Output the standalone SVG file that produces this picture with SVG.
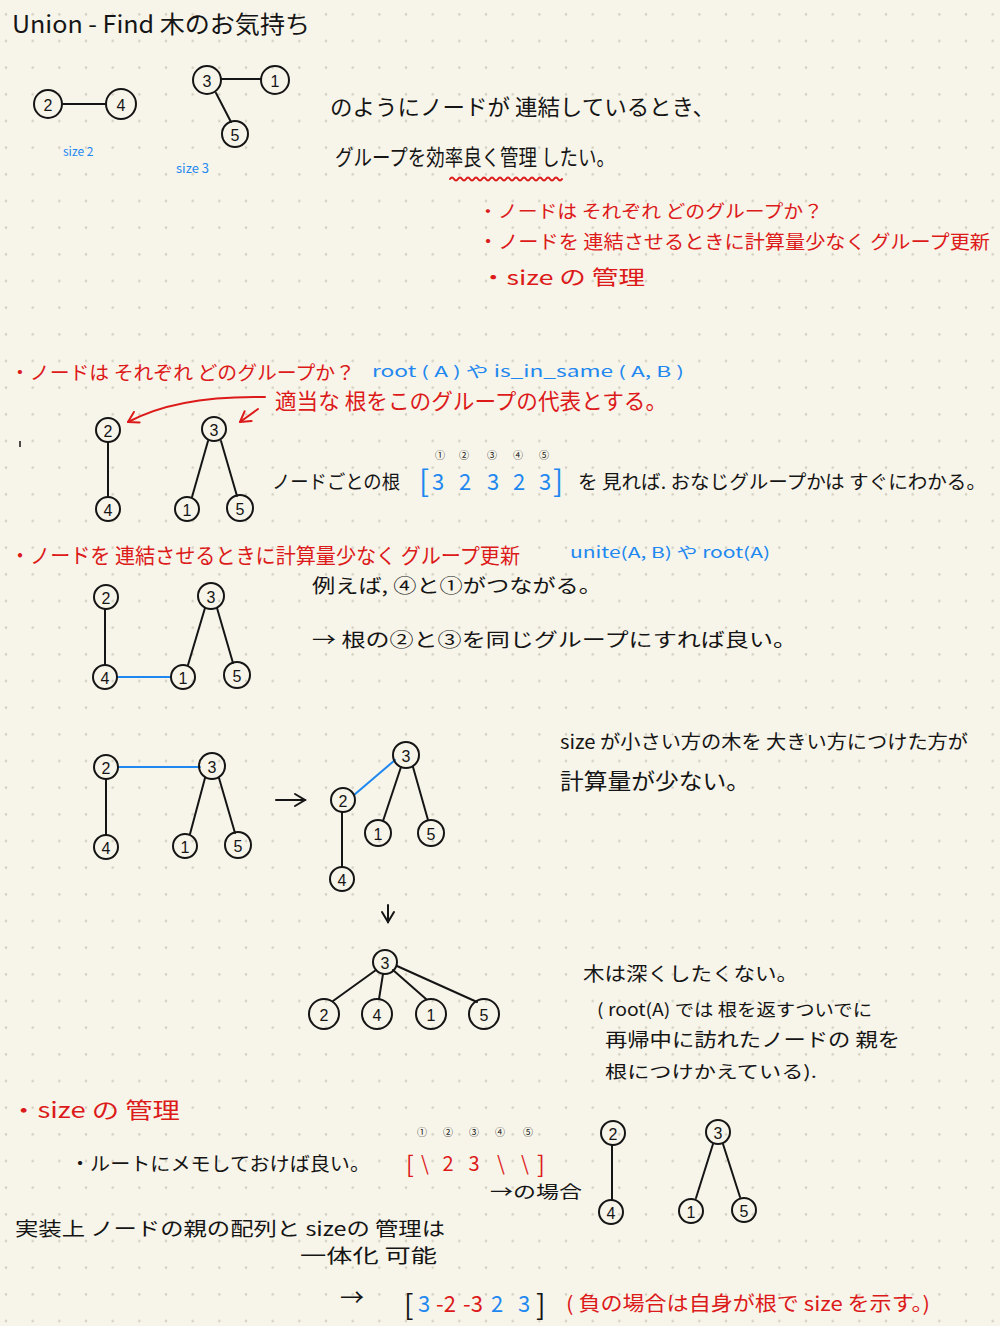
<svg xmlns="http://www.w3.org/2000/svg" width="1000" height="1326" viewBox="0 0 1000 1326">
<style>
.t{font-family:"Noto Sans CJK JP","Noto Sans CJK SC",sans-serif;fill:#151515}
.r{fill:#dc1a1a}
.b{fill:#1e88f0}
.n circle{fill:none;stroke:#151515;stroke-width:2}
.n text{font-family:"Liberation Sans",sans-serif;font-size:16px;fill:#151515;text-anchor:middle;dominant-baseline:central}
.e{stroke:#151515;stroke-width:2;fill:none;stroke-linecap:round}
.eb{stroke:#1e88f0;stroke-width:2;fill:none;stroke-linecap:round}
.er{stroke:#dc1a1a;stroke-width:2;fill:none;stroke-linecap:round}
.sm{font-family:"Noto Sans CJK JP",sans-serif;font-size:10px;fill:#151515;text-anchor:middle}
</style>
<defs>
<pattern id="dots" width="26.667" height="26.667" patternUnits="userSpaceOnUse">
<circle cx="6" cy="14.3" r="1.2" fill="#cfcbbd"/>
</pattern>
<marker id="ar" markerWidth="16" markerHeight="16" refX="13" refY="7" orient="auto" markerUnits="userSpaceOnUse">
<path d="M3,1 L13,7 L3,13" fill="none" stroke="#dc1a1a" stroke-width="2" stroke-linecap="round" stroke-linejoin="round"/>
</marker>
<marker id="ak" markerWidth="16" markerHeight="16" refX="14" refY="8" orient="auto" markerUnits="userSpaceOnUse">
<path d="M4,2 L14,8 L4,14" fill="none" stroke="#151515" stroke-width="2" stroke-linecap="round"/>
</marker>
</defs>
<rect width="1000" height="1326" fill="#f7f4e9"/>
<rect width="1000" height="1326" fill="url(#dots)"/>

<text class="t" x="12" y="33" font-size="24" textLength="298" lengthAdjust="spacingAndGlyphs">Union - Find 木のお気持ち</text>

<g id="connectors">
<line class="e" x1="63" y1="104" x2="106" y2="104"/>
<line class="e" x1="221" y1="79" x2="261" y2="79"/>
<line class="e" x1="216" y1="93" x2="231" y2="122"/>
<line class="e" x1="108" y1="442" x2="108" y2="497"/>
<line class="e" x1="208" y1="441" x2="192" y2="497"/>
<line class="e" x1="221" y1="441" x2="237" y2="496"/>
<line class="e" x1="105" y1="609" x2="105" y2="665"/>
<line class="eb" x1="117" y1="677" x2="171" y2="677"/>
<line class="e" x1="205" y1="608" x2="188" y2="665"/>
<line class="e" x1="217" y1="608" x2="233" y2="663"/>
<line class="eb" x1="118" y1="767" x2="200" y2="767"/>
<line class="e" x1="106" y1="779" x2="106" y2="835"/>
<line class="e" x1="205" y1="778" x2="190" y2="834"/>
<line class="e" x1="219" y1="778" x2="235" y2="833"/>
<line class="eb" x1="354" y1="795" x2="395" y2="760"/>
<line class="e" x1="401" y1="767" x2="383" y2="821"/>
<line class="e" x1="413" y1="767" x2="428" y2="820"/>
<line class="e" x1="342" y1="812" x2="342" y2="867"/>
<line class="e" x1="376" y1="970" x2="333" y2="1001"/>
<line class="e" x1="383" y1="974" x2="379" y2="999"/>
<line class="e" x1="393" y1="970" x2="426" y2="999"/>
<line class="e" x1="397" y1="966" x2="477" y2="1002"/>
<line class="e" x1="612" y1="1145" x2="612" y2="1200"/>
<line class="e" x1="713" y1="1144" x2="696" y2="1198"/>
<line class="e" x1="723" y1="1144" x2="740" y2="1197"/>
<path class="er" d="M265,397 C215,396 165,402 128,422" marker-end="url(#ar)"/>
<path class="er" d="M258,409 L240,422" marker-end="url(#ar)"/>
<path class="e" d="M276,800 L305,800" marker-end="url(#ak)"/>
<path class="e" d="M388,905 L388,922" marker-end="url(#ak)"/>
</g>

<g id="n-top-2" class="n"><circle cx="48" cy="104" r="14"/><text x="48" y="105">2</text></g>
<g id="n-top-4" class="n"><circle cx="121" cy="104" r="15"/><text x="121" y="105">4</text></g>
<g id="n-top-3" class="n"><circle cx="207" cy="80" r="14"/><text x="207" y="81">3</text></g>
<g id="n-top-1" class="n"><circle cx="275" cy="80" r="14"/><text x="275" y="81">1</text></g>
<g id="n-top-5" class="n"><circle cx="235" cy="134" r="13"/><text x="235" y="135">5</text></g>
<text class="t b" x="63" y="156" font-size="12">size 2</text>
<text class="t b" x="176" y="173" font-size="13">size 3</text>

<text class="t" x="330" y="115" font-size="22" textLength="385" lengthAdjust="spacingAndGlyphs">のようにノードが 連結しているとき、</text>
<text class="t" x="335" y="165" font-size="22" textLength="280" lengthAdjust="spacingAndGlyphs">グループを効率良く管理 したい。</text>
<path class="er" d="M450,179 q2,-3 4,0 t4,0 t4,0 t4,0 t4,0 t4,0 t4,0 t4,0 t4,0 t4,0 t4,0 t4,0 t4,0 t4,0 t4,0 t4,0 t4,0 t4,0 t4,0 t4,0 t4,0 t4,0 t4,0 t4,0 t4,0 t4,0 t4,0 t4,0"/>
<text class="t r" x="478" y="218" font-size="18" textLength="345" lengthAdjust="spacingAndGlyphs">・ノードは それぞれ どのグループか？</text>
<text class="t r" x="478" y="249" font-size="19" textLength="512" lengthAdjust="spacingAndGlyphs">・ノードを 連結させるときに計算量少なく グループ更新</text>
<text class="t r" x="480" y="285" font-size="20" textLength="165" lengthAdjust="spacingAndGlyphs">・size の 管理</text>

<text class="t r" x="10" y="380" font-size="19" textLength="345" lengthAdjust="spacingAndGlyphs">・ノードは それぞれ どのグループか？</text>
<text class="t b" x="372" y="377" font-size="15" textLength="312" lengthAdjust="spacingAndGlyphs">root ( A )  や  is_in_same ( A, B )</text>
<text class="t r" x="275" y="409" font-size="22" textLength="392" lengthAdjust="spacingAndGlyphs">適当な 根をこのグループの代表とする。</text>
<line x1="20" y1="441" x2="20" y2="447" stroke="#151515" stroke-width="1.5"/>

<g id="n1-2" class="n"><circle cx="108" cy="430" r="12"/><text x="108" y="431">2</text></g>
<g id="n1-3" class="n"><circle cx="214" cy="429" r="12"/><text x="214" y="430">3</text></g>
<g id="n1-4" class="n"><circle cx="108" cy="509" r="12"/><text x="108" y="510">4</text></g>
<g id="n1-1" class="n"><circle cx="187" cy="509" r="12"/><text x="187" y="510">1</text></g>
<g id="n1-5" class="n"><circle cx="240" cy="508" r="13"/><text x="240" y="509">5</text></g>

<text class="t" x="272" y="489" font-size="19" textLength="128" lengthAdjust="spacingAndGlyphs">ノードごとの根</text>
<text class="sm" x="440" y="459">①</text><text class="sm" x="464" y="459">②</text><text class="sm" x="492" y="459">③</text><text class="sm" x="518" y="459">④</text><text class="sm" x="544" y="459">⑤</text>
<g class="t b" font-size="22" text-anchor="middle">
<text x="424" y="492" font-size="30">[</text>
<text x="438" y="490">3</text><text x="465" y="490">2</text><text x="493" y="490">3</text><text x="519" y="490">2</text><text x="545" y="490">3</text>
<text x="558" y="492" font-size="30">]</text>
</g>
<text class="t" x="578" y="489" font-size="19" textLength="408" lengthAdjust="spacingAndGlyphs">を 見れば. おなじグループかは すぐにわかる。</text>

<text class="t r" x="10" y="563" font-size="21" textLength="510" lengthAdjust="spacingAndGlyphs">・ノードを 連結させるときに計算量少なく グループ更新</text>
<text class="t b" x="570" y="558" font-size="15" textLength="200" lengthAdjust="spacingAndGlyphs">unite(A, B) や  root(A)</text>
<g id="n2-2" class="n"><circle cx="106" cy="597" r="12"/><text x="106" y="598">2</text></g>
<g id="n2-3" class="n"><circle cx="211" cy="596" r="13"/><text x="211" y="597">3</text></g>
<g id="n2-4" class="n"><circle cx="105" cy="677" r="12"/><text x="105" y="678">4</text></g>
<g id="n2-1" class="n"><circle cx="183" cy="677" r="12"/><text x="183" y="678">1</text></g>
<g id="n2-5" class="n"><circle cx="237" cy="675" r="13"/><text x="237" y="676">5</text></g>
<text class="t" x="312" y="593" font-size="19" textLength="290" lengthAdjust="spacingAndGlyphs">例えば, ④と①がつながる。</text>
<text class="t" x="312" y="647" font-size="19" textLength="485" lengthAdjust="spacingAndGlyphs">→ 根の②と③を同じグループにすれば良い。</text>

<g id="n3-2" class="n"><circle cx="106" cy="767" r="12"/><text x="106" y="768">2</text></g>
<g id="n3-3" class="n"><circle cx="212" cy="766" r="13"/><text x="212" y="767">3</text></g>
<g id="n3-4" class="n"><circle cx="106" cy="847" r="12"/><text x="106" y="848">4</text></g>
<g id="n3-1" class="n"><circle cx="185" cy="846" r="12"/><text x="185" y="847">1</text></g>
<g id="n3-5" class="n"><circle cx="238" cy="845" r="13"/><text x="238" y="846">5</text></g>
<g id="n4-3" class="n"><circle cx="406" cy="755" r="13"/><text x="406" y="756">3</text></g>
<g id="n4-2" class="n"><circle cx="343" cy="800" r="12"/><text x="343" y="801">2</text></g>
<g id="n4-1" class="n"><circle cx="378" cy="833" r="13"/><text x="378" y="834">1</text></g>
<g id="n4-5" class="n"><circle cx="431" cy="833" r="13"/><text x="431" y="834">5</text></g>
<g id="n4-4" class="n"><circle cx="342" cy="879" r="12"/><text x="342" y="880">4</text></g>
<g id="n5-3" class="n"><circle cx="385" cy="962" r="12"/><text x="385" y="963">3</text></g>
<g id="n5-2" class="n"><circle cx="324" cy="1014" r="15"/><text x="324" y="1015">2</text></g>
<g id="n5-4" class="n"><circle cx="377" cy="1014" r="15"/><text x="377" y="1015">4</text></g>
<g id="n5-1" class="n"><circle cx="431" cy="1014" r="15"/><text x="431" y="1015">1</text></g>
<g id="n5-5" class="n"><circle cx="484" cy="1014" r="15"/><text x="484" y="1015">5</text></g>

<text class="t" x="560" y="749" font-size="19" textLength="408" lengthAdjust="spacingAndGlyphs">size が小さい方の木を 大きい方につけた方が</text>
<text class="t" x="560" y="789" font-size="22" textLength="190" lengthAdjust="spacingAndGlyphs">計算量が少ない。</text>
<text class="t" x="583" y="981" font-size="19" textLength="215" lengthAdjust="spacingAndGlyphs">木は深くしたくない。</text>
<text class="t" x="597" y="1016" font-size="17" textLength="275" lengthAdjust="spacingAndGlyphs">( root(A) では 根を返すついでに</text>
<text class="t" x="605" y="1047" font-size="19" textLength="295" lengthAdjust="spacingAndGlyphs">再帰中に訪れたノードの 親を</text>
<text class="t" x="605" y="1078" font-size="17" textLength="212" lengthAdjust="spacingAndGlyphs">根につけかえている).</text>

<text class="t r" x="10" y="1118" font-size="22" textLength="170" lengthAdjust="spacingAndGlyphs">・size の 管理</text>
<text class="t" x="70" y="1171" font-size="19" textLength="300" lengthAdjust="spacingAndGlyphs">・ルートにメモしておけば良い。</text>
<text class="sm" x="422" y="1136">①</text><text class="sm" x="448" y="1136">②</text><text class="sm" x="474" y="1136">③</text><text class="sm" x="500" y="1136">④</text><text class="sm" x="528" y="1136">⑤</text>
<g class="t r" font-size="20" text-anchor="middle">
<text x="410" y="1173" font-size="23">[</text>
<text x="425" y="1171">\</text><text x="448" y="1171">2</text><text x="474" y="1171">3</text><text x="501" y="1171">\</text><text x="525" y="1171">\</text>
<text x="541" y="1173" font-size="23">]</text>
</g>
<text class="t" x="490" y="1198" font-size="17" textLength="92" lengthAdjust="spacingAndGlyphs">→の場合</text>
<g id="n6-2" class="n"><circle cx="613" cy="1133" r="12"/><text x="613" y="1134">2</text></g>
<g id="n6-4" class="n"><circle cx="611" cy="1212" r="12"/><text x="611" y="1213">4</text></g>
<g id="n6-3" class="n"><circle cx="718" cy="1132" r="12"/><text x="718" y="1133">3</text></g>
<g id="n6-1" class="n"><circle cx="691" cy="1211" r="12"/><text x="691" y="1212">1</text></g>
<g id="n6-5" class="n"><circle cx="744" cy="1210" r="12"/><text x="744" y="1211">5</text></g>

<text class="t" x="15" y="1236" font-size="19" textLength="430" lengthAdjust="spacingAndGlyphs">実装上  ノードの親の配列と sizeの 管理は</text>
<text class="t" x="300" y="1263" font-size="19" textLength="137" lengthAdjust="spacingAndGlyphs">一体化 可能</text>
<text class="t" x="340" y="1306" font-size="24">→</text>
<g class="t" font-size="22">
<text x="404" y="1315" font-size="28">[</text>
<text class="b" x="418" y="1312">3</text>
<text class="r" x="436" y="1312">-2</text>
<text class="r" x="463" y="1312">-3</text>
<text class="b" x="491" y="1312">2</text>
<text class="b" x="518" y="1312">3</text>
<text x="536" y="1315" font-size="28">]</text>
</g>
<text class="t r" x="566" y="1311" font-size="20" textLength="364" lengthAdjust="spacingAndGlyphs">( 負の場合は自身が根で size を示す。)</text>
</svg>
